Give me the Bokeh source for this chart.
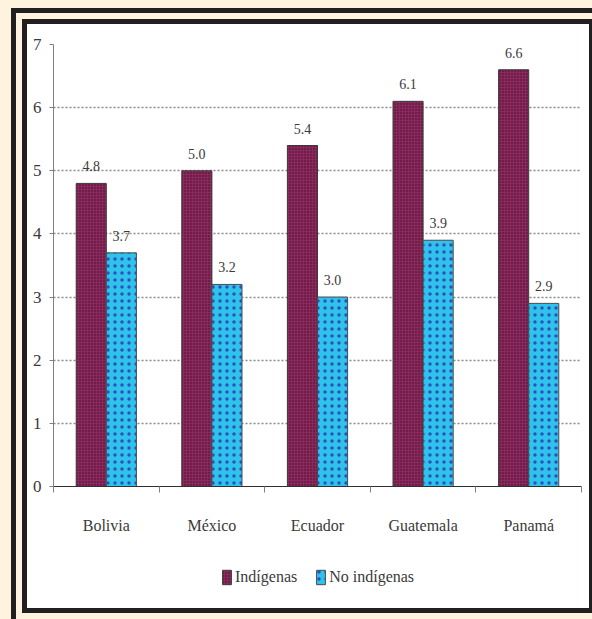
from bokeh.plotting import figure
from bokeh.layouts import column
from bokeh.models import Range1d, FixedTicker, Legend, LegendItem, ColumnDataSource
from bokeh.core.properties import value
from bokeh.embed import file_html
from bokeh.resources import INLINE

countries = ["Bolivia", "México", "Ecuador", "Guatemala", "Panamá"]
indigenas = [4.8, 5.0, 5.4, 6.1, 6.6]
no_indigenas = [3.7, 3.2, 3.0, 3.9, 2.9]
y_ticks = [0, 1, 2, 3, 4, 5, 6, 7]

FONT = "Liberation Serif"
CREAM = "#FDF3DF"
DARK = "#231F20"
MAROON = "#8A2A5C"
CYAN = "#2EC3EA"
TEXT = "#3a3a3a"

STYLE_I = dict(fill_color=MAROON, line_color="#3a3a3a", line_width=1,
               hatch_pattern="dot", hatch_color="#3F0A26", hatch_scale=3,
               hatch_weight=1.2)
STYLE_N = dict(fill_color=CYAN, line_color="#4a4a4a", line_width=1,
               hatch_pattern="dot", hatch_color="#2F4FC0", hatch_scale=7,
               hatch_weight=1.0)

# white chart panel framed by a double dark border on a cream page
frame_css = {
    "position": "absolute", "left": "27px", "top": "24px",
    "box-shadow": (f"0 0 0 5px {DARK}, 0 0 0 11px {CREAM}, "
                   f"0 0 0 16px {DARK}, 0 0 0 80px {CREAM}"),
}

p = figure(width=562, height=522, output_backend="svg", toolbar_location=None,
           x_range=Range1d(0, len(countries)), y_range=Range1d(0, 7),
           min_border_left=26, min_border_right=8, min_border_top=20,
           min_border_bottom=60)
p.border_fill_color = "white"
p.background_fill_color = "white"
p.outline_line_color = None

centers = [i + 0.5 for i in range(len(countries))]
w = 0.285
src = ColumnDataSource(dict(
    xi=[c - w / 2 for c in centers], xn=[c + w / 2 for c in centers],
    yi=indigenas, yn=no_indigenas,
    ti=[f"{v:.1f}" for v in indigenas], tn=[f"{v:.1f}" for v in no_indigenas]))

p.vbar(x="xi", top="yi", width=w, source=src, **STYLE_I)
p.vbar(x="xn", top="yn", width=w, source=src, **STYLE_N)

for xcol, ycol, tcol in [("xi", "yi", "ti"), ("xn", "yn", "tn")]:
    p.text(x=xcol, y=ycol, text=tcol, source=src, text_align="center",
           text_baseline="bottom", y_offset=-12, text_color=TEXT,
           text_font=value(FONT), text_font_size="14px")

# y axis
p.yaxis.ticker = FixedTicker(ticks=y_ticks)
p.yaxis.axis_line_color = "#808080"
p.yaxis.major_tick_line_color = "#808080"
p.yaxis.major_tick_out = 4
p.yaxis.major_tick_in = 0
p.yaxis.minor_tick_line_color = None
p.yaxis.major_label_standoff = 8
p.yaxis.major_label_text_font = FONT
p.yaxis.major_label_text_font_size = "17px"
p.yaxis.major_label_text_color = TEXT

# x axis: names at category centres, ticks at the boundaries
p.xaxis.ticker = FixedTicker(ticks=centers, minor_ticks=list(range(len(countries) + 1)))
p.xaxis.major_label_overrides = {c: n for c, n in zip(centers, countries)}
p.xaxis.axis_line_color = "#303030"
p.xaxis.major_tick_line_color = None
p.xaxis.major_tick_out = 0
p.xaxis.major_tick_in = 0
p.xaxis.minor_tick_line_color = "#808080"
p.xaxis.minor_tick_out = 6
p.xaxis.minor_tick_in = 0
p.xaxis.major_label_standoff = 24
p.xaxis.major_label_text_font = FONT
p.xaxis.major_label_text_font_size = "16px"
p.xaxis.major_label_text_color = TEXT

# dotted horizontal gridlines
p.xgrid.grid_line_color = None
p.ygrid.grid_line_color = "#8a8a8a"
p.ygrid.grid_line_width = 1.3
p.ygrid.grid_line_dash = "2 2"

# legend strip under the chart; its swatch renderers lie outside the view
lg = figure(width=562, height=62, output_backend="svg", toolbar_location=None,
            x_range=Range1d(100, 101), y_range=Range1d(100, 101), min_border=0,
            x_axis_location=None, y_axis_location=None)
lg.border_fill_color = "white"
lg.background_fill_color = "white"
lg.outline_line_color = None
lg.grid.grid_line_color = None
ri = lg.vbar(x="xi", top="yi", width=w, source=src, **STYLE_I)
rn = lg.vbar(x="xn", top="yn", width=w, source=src, **STYLE_N)
legend = Legend(items=[LegendItem(label="Indígenas", renderers=[ri]),
                       LegendItem(label="No indígenas", renderers=[rn])],
                orientation="horizontal", location=(168, 22),
                glyph_width=11, glyph_height=18, label_standoff=3, spacing=18,
                padding=0, margin=0, border_line_color=None,
                background_fill_alpha=0, label_text_font=FONT,
                label_text_font_size="16px", label_text_color=TEXT)
lg.add_layout(legend)

page = column(p, lg, spacing=0, styles=frame_css)

open("out.html", "w").write(file_html(page, INLINE))
